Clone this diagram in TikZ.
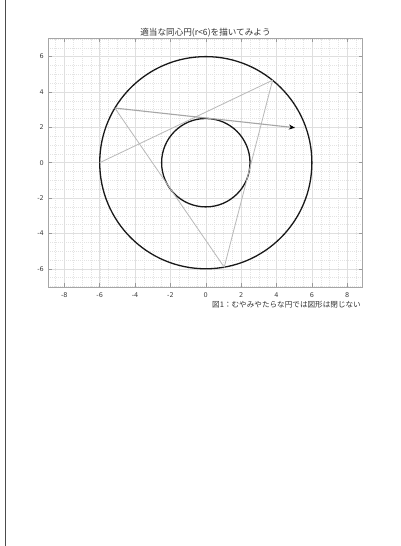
\documentclass[tikz,border=0pt]{standalone}
\usepackage{fontspec}
\setmainfont{DejaVu Sans}
\newfontfamily\jpfont{Noto Sans CJK JP}
\usetikzlibrary{arrows.meta}
\tikzset{
  circ/.style={draw=black!90, line width=1.3pt},
  chord/.style={draw=gray!55, line width=0.8pt},
  arrowline/.style={draw=gray!70, line width=1.1pt, -{Stealth[length=6pt,width=5pt,black]}},
  minorgrid/.style={draw=gray!22, line width=0.4pt, dash pattern=on 1pt off 1pt},
  majorgrid/.style={draw=gray!25, line width=0.5pt},
  ticklab/.style={font=\fontsize{6.5}{7}\selectfont, text=black!75, inner sep=0pt},
}
\begin{document}
\begin{tikzpicture}[x=1pt,y=1pt]
\useasboundingbox (0,0) rectangle (400,546);
\fill[white] (0,0) rectangle (400,546);
\draw[black!70, line width=1.3pt] (5.5,0) -- (5.5,546);
\begin{scope}[shift={(205.8,383.3)}, x=17.68pt, y=17.68pt]
  % grid
  \foreach \v in {-8.5,-8,...,8.5} \draw[minorgrid] (\v,-7.02) -- (\v,7.02);
  \foreach \v in {-7,-6.5,...,7} \draw[minorgrid] (-8.9,\v) -- (8.86,\v);
  \foreach \v in {-8,-6,...,8} \draw[majorgrid] (\v,-7.02) -- (\v,7.02);
  \foreach \v in {-6,-4,...,6} \draw[majorgrid] (-8.9,\v) -- (8.86,\v);
  % ticks
  \foreach \v in {-8,-6,...,8} {
    \draw[gray!80, line width=0.5pt] (\v,-7.02) -- ++(0,0.2);
    \draw[gray!80, line width=0.5pt] (\v,7.02) -- ++(0,-0.2);
    \node[ticklab, anchor=north] (xl\v) at (\v,-7.35) {\v};
  }
  \foreach \v in {-6,-4,...,6} {
    \draw[gray!80, line width=0.5pt] (-8.9,\v) -- ++(0.2,0);
    \draw[gray!80, line width=0.5pt] (8.86,\v) -- ++(-0.2,0);
    \node[ticklab, anchor=east] (yl\v) at (-9.15,\v) {\v};
  }
  \draw[gray!70, line width=0.6pt] (-8.9,-7.02) rectangle (8.86,7.02);
  % circles
  \node[circ, circle, minimum size=12*17.68pt, inner sep=0pt] (outer) at (0,0) {};
  \node[circ, circle, minimum size=5*17.68pt, inner sep=0pt] (inner) at (0,0) {};
  % vertices
  \coordinate (p0) at (180:6);
  \coordinate (p1) at (51:6);
  \coordinate (p2) at (-80:6);
  \coordinate (p3) at (149:6);
  \coordinate (p4) at (5.04,1.98);
  \draw[chord] (p0) -- (p1) -- (p2) -- (p3);
  \draw[arrowline] (p3) -- (p4);
\end{scope}
\node[font=\jpfont\fontsize{8.6}{9}\selectfont, text=black!80, inner sep=0pt] (title) at (205.5,513.3) {適当な同心円(r<6)を描いてみよう};
\node[font=\jpfont\fontsize{7.6}{8}\selectfont, text=black!80, inner sep=0pt, anchor=east] (cap) at (361,241.7) {図1：むやみやたらな円では図形は閉じない};
\end{tikzpicture}
\end{document}
